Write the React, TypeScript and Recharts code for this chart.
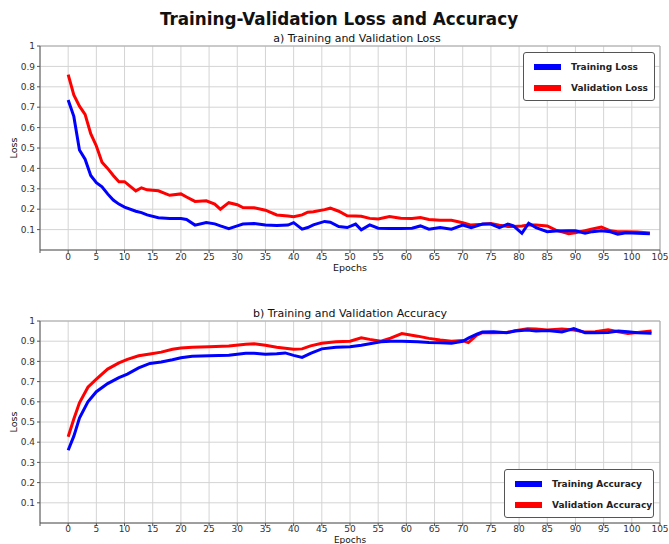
import { LineChart, Line, XAxis, YAxis, CartesianGrid, ReferenceLine } from "recharts";

// loss curves (a)
const lossEpochs = [0, 1, 2, 3, 4, 5, 6, 7, 8, 9, 10, 12, 13, 14, 16, 18, 20, 21, 22.5, 24.5, 26, 27, 28.5, 30, 31, 33, 35, 37, 39, 40, 41.5, 42.5, 43.5, 45.5, 46.5, 48, 49.5, 51, 52, 53.5, 55, 57, 59, 61, 62.5, 64, 66, 68, 70, 71.5, 73.5, 75, 76.5, 78, 79, 80.5, 81.7, 83, 85, 86.5, 88.8, 90, 91.7, 93, 94.6, 96.2, 97.5, 99, 101, 103.2];
const trainLoss = [0.735, 0.655, 0.49, 0.445, 0.365, 0.33, 0.31, 0.275, 0.245, 0.225, 0.21, 0.19, 0.183, 0.172, 0.158, 0.155, 0.154, 0.15, 0.122, 0.135, 0.128, 0.118, 0.105, 0.118, 0.127, 0.13, 0.123, 0.12, 0.122, 0.134, 0.102, 0.11, 0.123, 0.14, 0.136, 0.115, 0.11, 0.127, 0.099, 0.123, 0.107, 0.106, 0.105, 0.107, 0.118, 0.102, 0.11, 0.102, 0.122, 0.11, 0.127, 0.127, 0.11, 0.127, 0.118, 0.082, 0.131, 0.11, 0.09, 0.093, 0.094, 0.094, 0.082, 0.09, 0.094, 0.089, 0.077, 0.085, 0.082, 0.08];
const valLoss = [0.86, 0.76, 0.705, 0.665, 0.57, 0.51, 0.43, 0.4, 0.365, 0.335, 0.335, 0.29, 0.305, 0.295, 0.29, 0.268, 0.275, 0.26, 0.238, 0.241, 0.225, 0.2, 0.232, 0.222, 0.208, 0.207, 0.195, 0.172, 0.167, 0.163, 0.172, 0.185, 0.188, 0.198, 0.205, 0.19, 0.168, 0.167, 0.165, 0.155, 0.152, 0.164, 0.156, 0.154, 0.159, 0.15, 0.146, 0.146, 0.134, 0.122, 0.126, 0.13, 0.122, 0.115, 0.115, 0.118, 0.122, 0.122, 0.118, 0.097, 0.08, 0.085, 0.095, 0.103, 0.113, 0.094, 0.09, 0.09, 0.088, 0.083];

// accuracy curves (b)
const accEpochs = [0, 1, 2, 3.5, 5, 7, 9, 10.5, 12.5, 14.5, 16.5, 18.5, 20, 22, 25, 28.5, 31.5, 33, 35, 37, 38.5, 40, 41.5, 43, 45, 47.5, 50, 52, 53.5, 55.5, 57.2, 59.2, 62, 64, 66, 68, 70, 71, 72.5, 73.5, 75.5, 77.8, 79.3, 81.5, 83, 85, 87.6, 89.7, 91.7, 93.5, 95.8, 97.6, 99.3, 101, 103.5];
const trainAcc = [0.36, 0.43, 0.52, 0.6, 0.65, 0.69, 0.72, 0.737, 0.768, 0.79, 0.797, 0.808, 0.818, 0.826, 0.828, 0.83, 0.84, 0.84, 0.836, 0.838, 0.842, 0.83, 0.82, 0.84, 0.862, 0.87, 0.872, 0.88, 0.887, 0.897, 0.9, 0.9, 0.897, 0.893, 0.892, 0.89, 0.9, 0.915, 0.935, 0.945, 0.947, 0.942, 0.95, 0.955, 0.95, 0.953, 0.946, 0.962, 0.942, 0.942, 0.943, 0.95, 0.947, 0.942, 0.939];
const valAcc = [0.427, 0.515, 0.595, 0.672, 0.712, 0.762, 0.793, 0.81, 0.828, 0.837, 0.846, 0.86, 0.866, 0.87, 0.872, 0.876, 0.885, 0.887, 0.88, 0.87, 0.865, 0.86, 0.862, 0.877, 0.89, 0.897, 0.9, 0.917, 0.909, 0.9, 0.915, 0.938, 0.925, 0.914, 0.906, 0.9, 0.903, 0.893, 0.93, 0.942, 0.942, 0.943, 0.952, 0.962, 0.96, 0.955, 0.96, 0.955, 0.945, 0.947, 0.957, 0.947, 0.938, 0.943, 0.95];

const xTicks = [-5, 0, 5, 10, 15, 20, 25, 30, 35, 40, 45, 50, 55, 60, 65, 70, 75, 80, 85, 90, 95, 100, 105];
const yTicks = [0.1, 0.2, 0.3, 0.4, 0.5, 0.6, 0.7, 0.8, 0.9, 1];

const lossData = lossEpochs.map((e, i) => ({ epoch: e, train: trainLoss[i], val: valLoss[i] }));
const accData = accEpochs.map((e, i) => ({ epoch: e, train: trainAcc[i], val: valAcc[i] }));

const FONT = "'DejaVu Sans', sans-serif";
const tickStyle = { fontSize: 9, fill: "#333", fontFamily: FONT };

function Panel({ data, top, height, marginTop, xMargin }: { data: any[]; top: number; height: number; marginTop: number; xMargin: number }) {
  return (
    <div style={{ position: "absolute", left: 0, top }}>
      <LineChart width={669} height={height} data={data} margin={{ top: marginTop, right: 9, left: 0, bottom: 0 }}>
        <CartesianGrid stroke="#d4d4d4" strokeWidth={1} />
        <XAxis
          dataKey="epoch"
          type="number"
          domain={[-5, 105]}
          ticks={xTicks}
          interval={0}
          tickFormatter={(v) => (v === -5 ? "" : String(v))}
          tick={tickStyle}
          tickSize={3}
          tickMargin={xMargin}
          height={30}
          stroke="#555"
        />
        <YAxis
          type="number"
          domain={[0, 1]}
          ticks={yTicks}
          interval={0}
          tickFormatter={(v) => (v === 1 ? "1" : v.toFixed(1))}
          tick={tickStyle}
          tickSize={3}
          tickMargin={2}
          width={40}
          stroke="#555"
        />
        <ReferenceLine y={1} stroke="#aaa" />
        <ReferenceLine x={105} stroke="#aaa" />
        <Line dataKey="val" stroke="#ff0000" strokeWidth={3} dot={false} isAnimationActive={false} />
        <Line dataKey="train" stroke="#0000ff" strokeWidth={3} dot={false} isAnimationActive={false} />
      </LineChart>
    </div>
  );
}

function LegendBox({ left, top, width, labels }: { left: number; top: number; width: number; labels: string[] }) {
  const colors = ["#0000ff", "#ff0000"];
  return (
    <div
      style={{
        position: "absolute",
        left,
        top,
        width,
        height: 49,
        boxSizing: "border-box",
        border: "1px solid #555",
        borderRadius: 3,
        background: "#fff",
        fontFamily: FONT,
      }}
    >
      {labels.map((l, i) => (
        <div key={l} style={{ position: "absolute", left: 10, top: 5 + i * 21.5, height: 17, display: "flex", alignItems: "center" }}>
          <div style={{ width: 27, height: 6, background: colors[i] }} />
          <span style={{ marginLeft: 10, fontSize: 9, fontWeight: "bold", color: "#222", whiteSpace: "nowrap" }}>{l}</span>
        </div>
      ))}
    </div>
  );
}

const textAbs = (x: number, y: number, size: number, bold = false): React.CSSProperties => ({
  position: "absolute",
  left: x,
  top: y,
  transform: "translate(-50%, -50%)",
  fontFamily: FONT,
  fontSize: size,
  fontWeight: bold ? "bold" : "normal",
  color: "#111",
  whiteSpace: "nowrap",
  lineHeight: 1,
});

export default function App() {
  return (
    <div style={{ position: "absolute", left: 0, top: 0, width: 669, height: 544, overflow: "hidden", background: "#fff" }}>
      <Panel data={lossData} top={0} height={280} marginTop={46} xMargin={1} />
      <Panel data={accData} top={274} height={279} marginTop={47} xMargin={0} />

      <div style={textAbs(339, 19, 16.8, true)}>Training-Validation Loss and Accuracy</div>
      <div style={textAbs(357, 38, 11)}>a) Training and Validation Loss</div>
      <div style={textAbs(350, 313, 11)}>b) Training and Validation Accuracy</div>

      <div style={{ ...textAbs(14, 148, 9.5), transform: "translate(-50%, -50%) rotate(-90deg)" }}>Loss</div>
      <div style={{ ...textAbs(14, 422, 9.5), transform: "translate(-50%, -50%) rotate(-90deg)" }}>Loss</div>
      <div style={textAbs(350, 268, 9.5)}>Epochs</div>
      <div style={textAbs(350, 539.5, 9)}>Epochs</div>

      <LegendBox left={523} top={52} width={132} labels={["Training Loss", "Validation Loss"]} />
      <LegendBox left={504} top={469} width={150} labels={["Training Accuracy", "Validation Accuracy"]} />
    </div>
  );
}
